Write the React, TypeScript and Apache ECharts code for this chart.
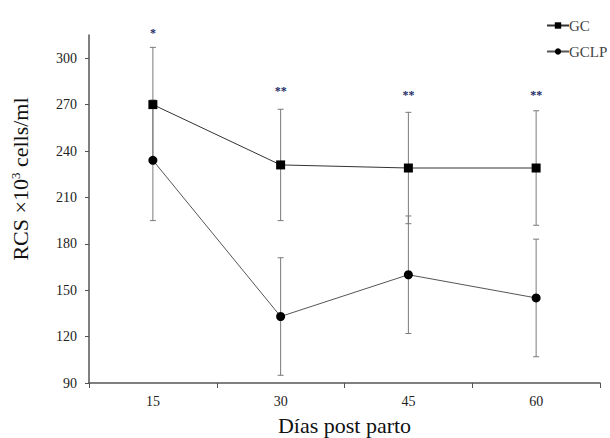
import React, { useEffect, useRef } from "react";
import * as echarts from "echarts";

const categories = ["15", "30", "45", "60"];
const gcValues = [270, 231, 229, 229];
const gcErrors = [37, 36, 36, 37];
const gclpValues = [234, 133, 160, 145];
const gclpErrors = [39, 38, 38, 38];
const starLabels = ["*", "**", "**", "**"];
const starValues = [316, 279, 276, 276];
const yTicks = [90, 120, 150, 180, 210, 240, 270, 300];

const FONT = "Liberation Serif";

function errorData(vals: number[], errs: number[]) {
  return vals.map((v, i) => [i, v + errs[i], v - errs[i]]);
}

function errorRender(params: any, api: any) {
  const x = api.value(0);
  const top = api.coord([x, api.value(1)]);
  const bot = api.coord([x, api.value(2)]);
  const w = 3;
  const style = { stroke: "#7a7a7a", lineWidth: 1 };
  return {
    type: "group",
    children: [
      { type: "line", shape: { x1: top[0], y1: top[1], x2: bot[0], y2: bot[1] }, style },
      { type: "line", shape: { x1: top[0] - w, y1: top[1], x2: top[0] + w, y2: top[1] }, style },
      { type: "line", shape: { x1: bot[0] - w, y1: bot[1], x2: bot[0] + w, y2: bot[1] }, style },
    ],
  };
}

export default function App() {
  const ref = useRef<HTMLDivElement>(null);
  useEffect(() => {
    if (!ref.current) return;
    const chart = echarts.init(ref.current, null, { renderer: "svg" });
    chart.setOption({
      animation: false,
      backgroundColor: "#ffffff",
      textStyle: { fontFamily: FONT },
      grid: { left: 89, right: 10, top: 35, bottom: 55, containLabel: false, outerBoundsMode: "none" },
      graphic: [
        {
          type: "text",
          x: 20,
          y: 179,
          rotation: Math.PI / 2,
          style: {
            text: "{a|RCS ×10}{s|3}{a| cells/ml}",
            align: "center",
            verticalAlign: "middle",
            rich: {
              a: { fontFamily: FONT, fontSize: 22, fill: "#111", color: "#111" },
              s: { fontFamily: FONT, fontSize: 13, fill: "#111", color: "#111", verticalAlign: "top", padding: [0, 0, 10, 0] },
            },
          },
        },
      ],
      legend: {
        orient: "vertical",
        left: 541,
        top: 13,
        itemWidth: 22,
        itemHeight: 8,
        itemGap: 11,
        textStyle: { fontFamily: FONT, fontSize: 15, color: "#444", padding: [0, 0, 0, -5] },
        data: ["GC", "GCLP"],
      },
      xAxis: {
        type: "category",
        data: categories,
        boundaryGap: true,
        name: "Días post parto",
        nameLocation: "middle",
        nameGap: 31,
        nameTextStyle: { fontFamily: FONT, fontSize: 22, color: "#111" },
        axisLine: { lineStyle: { color: "#555", width: 1.5 } },
        axisTick: { show: true, alignWithLabel: false, length: 5, lineStyle: { color: "#555" } },
        axisLabel: { fontFamily: FONT, fontSize: 14, color: "#222", margin: 11 },
        splitLine: { show: false },
      },
      yAxis: {
        type: "value",
        min: 90,
        max: 315,
        interval: 30,
        axisLine: { show: true, lineStyle: { color: "#555", width: 1.5 } },
        axisTick: { show: true, length: 4, customValues: yTicks, lineStyle: { color: "#555" } },
        axisLabel: { fontFamily: FONT, fontSize: 14, color: "#222", margin: 12, customValues: yTicks },
        splitLine: { show: false },
      },
      series: [
        {
          type: "custom",
          name: "errGC",
          renderItem: errorRender,
          data: errorData(gcValues, gcErrors),
          encode: { x: 0, y: [1, 2] },
          z: 1,
          silent: true,
        },
        {
          type: "custom",
          name: "errGCLP",
          renderItem: errorRender,
          data: errorData(gclpValues, gclpErrors),
          encode: { x: 0, y: [1, 2] },
          z: 1,
          silent: true,
        },
        {
          type: "line",
          name: "GC",
          data: gcValues,
          symbol: "rect",
          symbolSize: 9,
          itemStyle: { color: "#000" },
          lineStyle: { color: "#333", width: 1 },
          z: 3,
        },
        {
          type: "line",
          name: "GCLP",
          data: gclpValues,
          symbol: "circle",
          symbolSize: 9,
          itemStyle: { color: "#000" },
          lineStyle: { color: "#555", width: 1 },
          z: 3,
        },
        {
          type: "custom",
          name: "stars",
          data: starValues.map((v, i) => [i, v]),
          encode: { x: 0, y: 1 },
          renderItem: (params: any, api: any) => {
            const p = api.coord([api.value(0), api.value(1)]);
            return {
              type: "text",
              x: p[0],
              y: p[1],
              style: {
                text: starLabels[params.dataIndex],
                fill: "#1c2a66",
                fontFamily: FONT,
                fontSize: 12,
                fontWeight: "bold",
                align: "center",
                verticalAlign: "middle",
              },
            };
          },
          z: 4,
          silent: true,
        },
      ],
    });
    return () => chart.dispose();
  }, []);
  return (
    <div
      ref={ref}
      style={{ position: "fixed", left: 0, top: 0, width: 610, height: 438 }}
    />
  );
}
